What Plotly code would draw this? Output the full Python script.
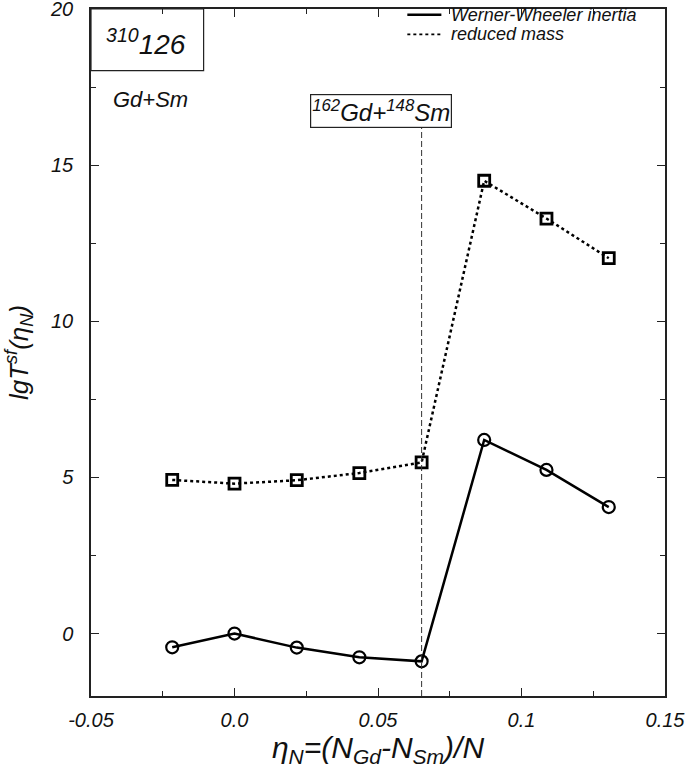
import plotly.graph_objects as go

# ---- data ----
eta_n = [-0.0217, 0.0, 0.0217, 0.0435, 0.0652, 0.0870, 0.1087, 0.1304]
lgT_werner_wheeler = [-0.44, 0.00, -0.45, -0.76, -0.89, 6.20, 5.24, 4.05]
lgT_reduced_mass = [4.92, 4.80, 4.91, 5.14, 5.48, 14.50, 13.29, 12.02]

x_tickvals = [-0.05, 0.0, 0.05, 0.1, 0.15]
x_ticktext = ["-0.05", "0.0", "0.05", "0.1", "0.15"]
y_tickvals = [0, 5, 10, 15, 20]
y_ticktext = ["0", "5", "10", "15", "20"]

series_names = ["Werner-Wheeler inertia", "reduced mass"]
marked_eta = 0.0652

FONT = "Liberation Sans"

fig = go.Figure()

fig.add_trace(go.Scatter(
    x=eta_n, y=lgT_reduced_mass, mode="lines+markers", name=series_names[1],
    line=dict(color="black", width=2.5, dash="dot"),
    marker=dict(symbol="square-open", size=11, color="black", line=dict(width=2.8, color="black")),
    showlegend=False,
))
fig.add_trace(go.Scatter(
    x=eta_n, y=lgT_werner_wheeler, mode="lines+markers", name=series_names[0],
    line=dict(color="black", width=2.5),
    marker=dict(symbol="circle-open", size=12, color="black", line=dict(width=2.2, color="black")),
    showlegend=False,
))

axis_common = dict(
    showline=True, linecolor="#222", linewidth=1.5, mirror="allticks",
    ticks="inside", ticklen=8, tickwidth=1.2, tickcolor="#222",
    showgrid=False, zeroline=False, automargin=False, ticklabeloverflow="allow",
)

fig.update_xaxes(
    range=[-0.05, 0.15], tickvals=x_tickvals, ticktext=x_ticktext,
    minor=dict(dtick=0.025, tick0=0, ticks="inside", ticklen=5, tickcolor="#222", tickwidth=1.2),
    tickfont=dict(family=FONT, size=20, color="#111", style="italic"),
    title=dict(text="η<sub>N</sub>=(N<sub>Gd</sub>-N<sub>Sm</sub>)/N",
               font=dict(family=FONT, size=30, color="#111", style="italic"), standoff=5),
    ticklabelstandoff=5,
    **axis_common,
)
fig.update_yaxes(
    range=[-2, 20], tickvals=y_tickvals, ticktext=y_ticktext,
    minor=dict(dtick=2.5, tick0=0, ticks="inside", ticklen=5, tickcolor="#222", tickwidth=1.2),
    tickfont=dict(family=FONT, size=20, color="#111", style="italic"),
    title=dict(text="lgT<sup>sf</sup>(η<sub>N</sub>)",
               font=dict(family=FONT, size=26, color="#111", style="italic"), standoff=14),
    ticklabelstandoff=12,
    **axis_common,
)

# dashed marker line at the 162Gd+148Sm split
fig.add_shape(type="line", xref="x", yref="paper", x0=marked_eta, x1=marked_eta,
              y0=0, y1=0.8268, line=dict(color="#333", width=1, dash="6px,3px"))

# top-left box
fig.add_shape(type="rect", xref="paper", yref="paper", x0=0, x1=0.1962, y0=0.9103, y1=1,
              line=dict(color="#222", width=1.2))
fig.add_annotation(xref="paper", yref="paper", x=0.0964, y=0.952, xanchor="center", yanchor="middle",
                   text="<sup>310</sup>126", showarrow=False,
                   font=dict(family=FONT, size=28, color="#111", style="italic"))
fig.add_annotation(xref="paper", yref="paper", x=0.1033, y=0.868, xanchor="center", yanchor="middle",
                   text="Gd+Sm", showarrow=False,
                   font=dict(family=FONT, size=22, color="#111", style="italic"))
fig.add_annotation(xref="paper", yref="paper", x=0.5057, y=0.851, xanchor="center", yanchor="middle",
                   text="<sup>162</sup>Gd+<sup>148</sup>Sm", showarrow=False,
                   bordercolor="#222", borderwidth=1.2, borderpad=1, bgcolor="white",
                   font=dict(family=FONT, size=24, color="#111", style="italic"))

# legend (drawn as line samples + labels)
legend_rows = [(0.9916, dict(color="black", width=2.5)),
               (0.9632, dict(color="black", width=1.8, dash="dot"))]
for name, (ly, lstyle) in zip(series_names, legend_rows):
    fig.add_shape(type="line", xref="paper", yref="paper", x0=0.5511, x1=0.6104,
                  y0=ly, y1=ly, line=lstyle)
    fig.add_annotation(xref="paper", yref="paper", x=0.6230, y=ly, xanchor="left", yanchor="middle",
                       text=name, showarrow=False,
                       font=dict(family=FONT, size=18, color="#111", style="italic"))

fig.update_layout(
    width=685, height=772,
    margin=dict(l=91, r=20, t=9, b=76),
    plot_bgcolor="white", paper_bgcolor="white",
    showlegend=False,
)

fig.write_html("out.html", config={"displayModeBar": False},
               post_script="document.body.style.margin='0';")
